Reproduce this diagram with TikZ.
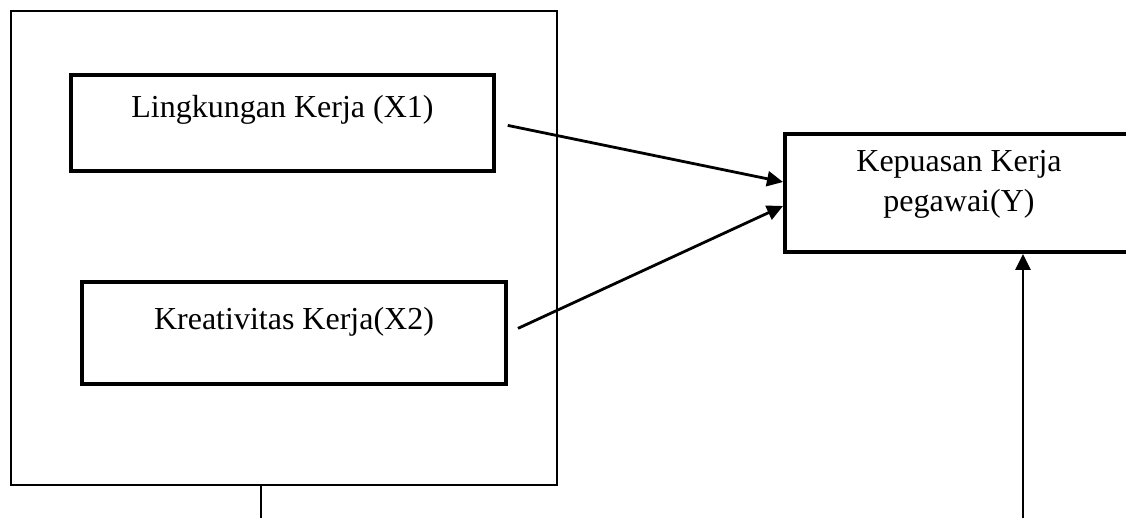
\documentclass[tikz,border=0pt]{standalone}
\usepackage{fontspec}
\setmainfont{Liberation Serif}
\usetikzlibrary{arrows.meta,positioning}

\begin{document}
\begin{tikzpicture}[
    x=1pt, y=-1pt,
    font=\fontsize{32}{40}\selectfont,
    >={Triangle[length=16pt,width=15pt]},
    varbox/.style={
        rectangle, draw=black, line width=4pt,
        inner sep=0pt, align=center
    },
    arrow/.style={->, line width=2.8pt},
]
  \useasboundingbox (0,0) rectangle (1126,518);

  %––– Outer frame ––––––––––––––––––––––––––––––––––––––––––
  \node (frame) [draw, line width=2pt, minimum width=546pt, minimum height=474pt] at (284,248) {};

  %––– Independent variables ––––––––––––––––––––––––––––––––
  \node (lingkungan) [varbox, minimum width=423pt, text height=43pt, text depth=53pt] at (282.5,123) {Lingkungan Kerja (X1)};
  \node (kreativitas) [varbox, minimum width=424pt, text height=47pt, text depth=55pt,
        below=107pt of lingkungan, xshift=11.5pt] {Kreativitas Kerja(X2)};

  %––– Dependent variable –––––––––––––––––––––––––––––––––––
  \node (kepuasan) [varbox, minimum width=348pt, text height=78pt, text depth=40pt] at (959,193) {Kepuasan Kerja\\pegawai(Y)};

  % free ends at the lower border
  \coordinate (xfoot) at (261,518);
  \coordinate (yfoot) at (1023,518);

  %––– Arrows –––––––––––––––––––––––––––––––––––––––––––––––
  \draw[arrow, shorten <=12pt] (lingkungan.east) -- ([yshift=11pt]kepuasan.west);
  \draw[arrow, shorten <=11pt] (kreativitas.east) -- ([yshift=-13pt]kepuasan.west);
  \draw[arrow] (yfoot) -- ([xshift=64pt]kepuasan.south);
  \draw[line width=2pt] ([xshift=-23pt]frame.south) -- (xfoot);
\end{tikzpicture}
\end{document}
